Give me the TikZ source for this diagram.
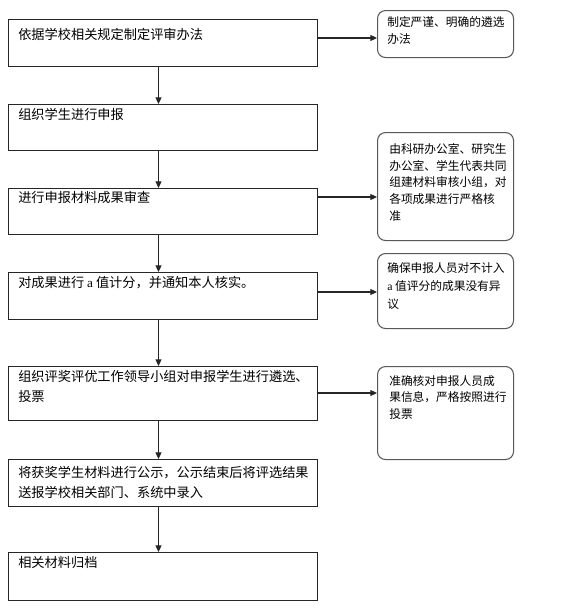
\documentclass[tikz,border=0pt]{standalone}
\usepackage{fontspec}
\newfontfamily\cjk{Noto Sans CJK SC}
\newfontfamily\lat{Liberation Serif}
\usetikzlibrary{arrows.meta}
\begin{document}
\begin{tikzpicture}[x=0.75pt,y=-0.75pt,
  lbox/.style={draw=black!85,line width=0.8pt,rectangle,anchor=north west,inner sep=0pt},
  rbox/.style={draw=black!65,line width=0.8pt,rectangle,rounded corners=6pt,anchor=north west,inner sep=0pt},
  ltext/.style={anchor=north west,inner sep=0pt,align=left,font=\cjk\fontsize{9.9pt}{15pt}\selectfont},
  rtext/.style={anchor=north west,inner sep=0pt,align=left,font=\cjk\fontsize{8.8pt}{12.6pt}\selectfont},
  arr/.style={draw=black!85,line width=0.8pt,-{Triangle[length=5pt,width=4.5pt]}}]
\useasboundingbox (0,0) rectangle (568,614);
% left boxes
\node[lbox,minimum width=309*0.75pt,minimum height=47*0.75pt] (b1) at (8,19) {};
\node[lbox,minimum width=309*0.75pt,minimum height=46*0.75pt] (b2) at (8,104) {};
\node[lbox,minimum width=309*0.75pt,minimum height=46*0.75pt] (b3) at (8,188) {};
\node[lbox,minimum width=309*0.75pt,minimum height=47*0.75pt] (b4) at (8,272) {};
\node[lbox,minimum width=309*0.75pt,minimum height=54*0.75pt] (b5) at (8,366) {};
\node[lbox,minimum width=309*0.75pt,minimum height=47*0.75pt] (b6) at (8,459) {};
\node[lbox,minimum width=309*0.75pt,minimum height=48*0.75pt] (b7) at (8,552) {};
\node[ltext] (t1) at (18,28) {依据学校相关规定制定评审办法};
\node[ltext] (t2) at (18,108) {组织学生进行申报};
\node[ltext] (t3) at (18,191) {进行申报材料成果审查};
\node[ltext] (t4) at (18,276) {对成果进行 {\lat a} 值计分，并通知本人核实。};
\node[ltext] (t5) at (18,370) {组织评奖评优工作领导小组对申报学生进行遴选、\\投票};
\node[ltext] (t6) at (18,466) {将获奖学生材料进行公示，公示结束后将评选结果\\送报学校相关部门、系统中录入};
\node[ltext] (t7) at (18,556) {相关材料归档};
% right boxes
\node[rbox,minimum width=136*0.75pt,minimum height=47*0.75pt] (r1) at (377,10) {};
\node[rbox,minimum width=136*0.75pt,minimum height=108*0.75pt] (r2) at (377,132) {};
\node[rbox,minimum width=136*0.75pt,minimum height=75*0.75pt] (r3) at (377,253) {};
\node[rbox,minimum width=136*0.75pt,minimum height=93*0.75pt] (r4) at (377,366) {};
\node[rtext] (s1) at (387,16) {制定严谨、明确的遴选\\办法};
\node[rtext] (s2) at (389,143) {由科研办公室、研究生\\办公室、学生代表共同\\组建材料审核小组，对\\各项成果进行严格核\\准};
\node[rtext,font=\cjk\fontsize{8.8pt}{13.8pt}\selectfont] (s3) at (387,262) {确保申报人员对不计入\\{\lat a} 值评分的成果没有异\\议};
\node[rtext] (s4) at (389,375) {准确核对申报人员成\\果信息，严格按照进行\\投票};
% vertical arrows
\foreach \a/\b in {b1/b2,b2/b3,b3/b4,b4/b5,b5/b6,b6/b7}
  \draw[arr] ([xshift=-3.4pt]\a.south) -- ([xshift=-3.4pt]\b.north);
% horizontal arrows
\coordinate (h1) at (0,38);
\coordinate (h2) at (0,197);
\coordinate (h3) at (0,292);
\coordinate (h4) at (0,393);
\draw[arr] (b1.east |- h1) -- (r1.west |- h1);
\draw[arr] (b3.east |- h2) -- (r2.west |- h2);
\draw[arr] (b4.east |- h3) -- (r3.west |- h3);
\draw[arr] (b5.east |- h4) -- (r4.west |- h4);
\end{tikzpicture}
\end{document}
